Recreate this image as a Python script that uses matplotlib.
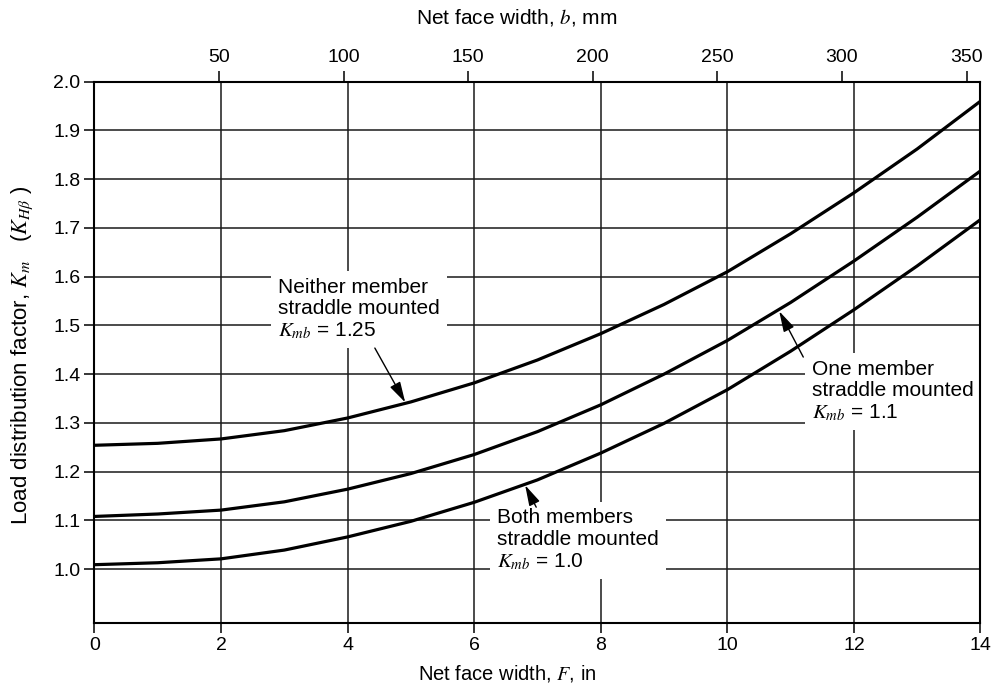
import numpy as np
import matplotlib.pyplot as plt

plt.rcParams['font.family'] = ['Liberation Sans', 'DejaVu Sans']
plt.rcParams['mathtext.fontset'] = 'stix'

# face width F (in) and load distribution factor
F_in = [0, 1, 2, 3, 4, 5, 6, 7, 8, 9, 10, 11, 12, 13, 14]
km_neither = [1.254, 1.258, 1.267, 1.284, 1.310, 1.343, 1.382, 1.429, 1.483,
              1.543, 1.610, 1.688, 1.772, 1.862, 1.960]
km_one = [1.108, 1.113, 1.121, 1.138, 1.164, 1.196, 1.235, 1.282, 1.337,
          1.400, 1.469, 1.547, 1.632, 1.722, 1.817]
km_both = [1.009, 1.013, 1.021, 1.039, 1.066, 1.098, 1.137, 1.183, 1.238,
           1.299, 1.368, 1.447, 1.532, 1.622, 1.717]

y_ticks = [1.0, 1.1, 1.2, 1.3, 1.4, 1.5, 1.6, 1.7, 1.8, 1.9, 2.0]
x_ticks = [0, 2, 4, 6, 8, 10, 12, 14]
mm_ticks = [50, 100, 150, 200, 250, 300, 350]

fig = plt.figure(figsize=(10.01, 6.83), dpi=100)
ax = fig.add_axes([0.0944, 0.0883, 0.8851, 0.7921])
ax.set_xlim(0, 14)
ax.set_ylim(0.89, 2.0)

# grid
for y in y_ticks:
    ax.axhline(y, color='#1a1a1a', lw=1.1, zorder=1)
for x in x_ticks[1:-1]:
    ax.axvline(x, color='#1a1a1a', lw=1.1, zorder=1)

# curves
for km in (km_neither, km_one, km_both):
    ax.plot(F_in, km, color='black', lw=2.3, zorder=3, solid_joinstyle='round')

for s in ax.spines.values():
    s.set_linewidth(1.5)
    s.set_zorder(6)

ax.set_xticks(x_ticks)
ax.set_yticks(y_ticks)
ax.set_yticklabels(['%.1f' % v for v in y_ticks], fontsize=14)
ax.set_xticklabels([str(v) for v in x_ticks], fontsize=14)
ax.tick_params(direction='out', length=7, width=1.1, pad=3)

# top axis in mm
top = ax.secondary_xaxis('top', functions=(lambda x: x * 25.4, lambda x: x / 25.4))
top.set_xticks(mm_ticks)
top.set_xticklabels([str(v) for v in mm_ticks], fontsize=14)
top.tick_params(direction='out', length=8, width=1.1, pad=3)
top.spines['top'].set_visible(False)

# labels
fig.text(507 / 1001, 1 - 673 / 683, r'Net face width, $F$, in', fontsize=14.5,
         ha='center', va='center')
fig.text(517 / 1001, 1 - 18 / 683, r'Net face width, $b$, mm', fontsize=15,
         ha='center', va='center')
fig.text(22 / 1001, 1 - 355 / 683,
         r'Load distribution factor, $K_m$   ($K_{H\beta}$ )', fontsize=16,
         rotation=90, ha='center', va='center')

# annotations
box = dict(facecolor='white', edgecolor='none', pad=5)
ax.text(2.90, 1.533, 'Neither member\nstraddle mounted\n$K_{mb}$ = 1.25',
        fontsize=15, ha='left', va='center', linespacing=1.15, bbox=box, zorder=4)
ax.text(11.33, 1.365, 'One member\nstraddle mounted\n$K_{mb}$ = 1.1',
        fontsize=15, ha='left', va='center', linespacing=1.15, bbox=box, zorder=4)
ax.text(6.36, 1.0595, 'Both members\nstraddle mounted\n$K_{mb}$ = 1.0',
        fontsize=15, ha='left', va='center', linespacing=1.15, bbox=box, zorder=4)

arrow = dict(arrowstyle='-|>,head_length=0.9,head_width=0.25', color='black',
             lw=1.0, mutation_scale=14, shrinkA=0, shrinkB=0)
ax.annotate('', xy=(4.91, 1.342), xytext=(4.43, 1.4535), arrowprops=arrow, zorder=5)
ax.annotate('', xy=(10.82, 1.529), xytext=(11.20, 1.435), arrowprops=arrow, zorder=5)
ax.annotate('', xy=(6.805, 1.172), xytext=(6.98, 1.127), arrowprops=arrow, zorder=5)

fig.savefig('out.png', dpi=100)
